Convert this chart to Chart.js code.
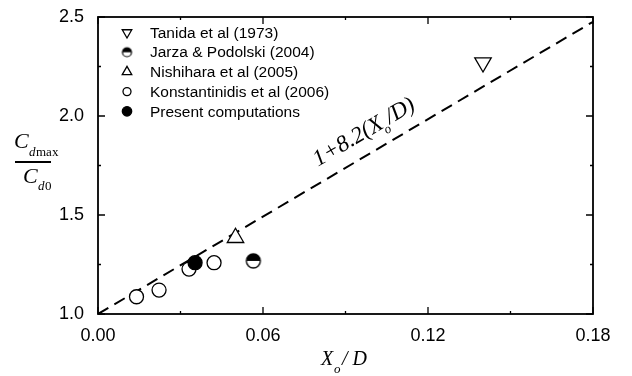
<!DOCTYPE html>
<html>
<head>
<meta charset="utf-8">
<script src="https://cdn.jsdelivr.net/npm/chart.js@4.4.0/dist/chart.umd.min.js"></script>
<style>
  html, body { margin: 0; padding: 0; background: #fff; }
  #wrap { width: 632px; height: 376px; position: relative; }
</style>
</head>
<body>
<div id="wrap"><canvas id="chart"></canvas></div>
<script>
// values
const tanidaX = [0.140];
const tanidaY = [2.27];
const jarzaX = [0.0565];
const jarzaY = [1.268];
const nishiharaX = [0.050];
const nishiharaY = [1.385];
const konstX = [0.014, 0.0222, 0.0331, 0.0422];
const konstY = [1.087, 1.121, 1.227, 1.259];
const presentX = [0.0353];
const presentY = [1.259];
const fitX = [0.0, 0.18];
const fitY = [1.0, 2.476];

const xTicks = [0.00, 0.06, 0.12, 0.18];
const xMinor = [0.03, 0.09, 0.15];
const yTicks = [1.0, 1.5, 2.0, 2.5];
const yMinor = [1.25, 1.75, 2.25];

const pts = (xs, ys) => xs.map((x, i) => ({ x: x, y: ys[i] }));

// half filled circle (top half black)
function halfCircle(r, lw) {
    const size = Math.ceil(2 * r + lw + 2);
    const c = document.createElement('canvas');
    c.width = size;
    c.height = size;
    const g = c.getContext('2d');
    const m = size / 2;
    g.beginPath(); g.arc(m, m, r, 0, Math.PI * 2); g.fillStyle = '#fff'; g.fill();
    g.beginPath(); g.arc(m, m, r, Math.PI, 0); g.closePath(); g.fillStyle = '#000'; g.fill();
    g.beginPath(); g.arc(m, m, r, 0, Math.PI * 2); g.lineWidth = lw; g.strokeStyle = '#000'; g.stroke();
    return c;
}

const serif = '"Liberation Serif", "Times New Roman", serif';
const sans = '"Liberation Sans", Arial, sans-serif';

// frame with inward ticks on all four sides
const frameTicks = {
    id: 'frameTicks',
    afterDatasetsDraw(chart) {
        const { ctx, chartArea: a, scales: { x, y } } = chart;
        ctx.save();
        ctx.strokeStyle = '#000';
        ctx.lineWidth = 1.3;
        ctx.beginPath();
        const xt = (v, len) => {
            const px = x.getPixelForValue(v);
            ctx.moveTo(px, a.bottom); ctx.lineTo(px, a.bottom - len);
            ctx.moveTo(px, a.top); ctx.lineTo(px, a.top + len);
        };
        const yt = (v, len) => {
            const py = y.getPixelForValue(v);
            ctx.moveTo(a.left, py); ctx.lineTo(a.left + len, py);
            ctx.moveTo(a.right, py); ctx.lineTo(a.right - len, py);
        };
        xTicks.forEach(v => xt(v, 7));
        xMinor.forEach(v => xt(v, 3));
        yTicks.forEach(v => yt(v, 7));
        yMinor.forEach(v => yt(v, 3));
        ctx.stroke();
        ctx.lineWidth = 1.8;
        ctx.strokeRect(a.left, a.top, a.right - a.left, a.bottom - a.top);
        ctx.restore();
    }
};

// axis titles with subscripts, and the label on the fit line
const titles = {
    id: 'titles',
    afterDraw(chart) {
        const { ctx, scales: { x, y } } = chart;
        ctx.save();
        ctx.fillStyle = '#000';
        ctx.textBaseline = 'alphabetic';

        // y title: C_dmax / C_d0
        ctx.font = 'italic 22px ' + serif;
        ctx.fillText('C', 14, 148);
        ctx.font = 'italic 13px ' + serif;
        ctx.fillText('d', 29, 156);
        ctx.font = '13px ' + serif;
        ctx.fillText('max', 36, 156);
        ctx.fillRect(15, 161, 36, 2);
        ctx.font = 'italic 22px ' + serif;
        ctx.fillText('C', 23, 183);
        ctx.font = 'italic 13px ' + serif;
        ctx.fillText('d', 38, 190);
        ctx.font = '13px ' + serif;
        ctx.fillText('0', 45, 190);

        // x title: X_o / D
        ctx.font = 'italic 20px ' + serif;
        ctx.fillText('X', 321, 365);
        ctx.font = 'italic 13px ' + serif;
        ctx.fillText('o', 334, 373);
        ctx.font = 'italic 20px ' + serif;
        ctx.fillText('/ D', 342, 365);

        // rotated label along the dashed line
        const p0x = x.getPixelForValue(fitX[0]), p0y = y.getPixelForValue(fitY[0]);
        const p1x = x.getPixelForValue(fitX[1]), p1y = y.getPixelForValue(fitY[1]);
        const ang = Math.atan2(p1y - p0y, p1x - p0x);
        const t = 0.46;
        ctx.translate(p0x + (p1x - p0x) * t, p0y + (p1y - p0y) * t);
        ctx.rotate(ang);
        ctx.translate(0, -15);
        let cx = 0;
        ctx.font = 'italic 23px ' + serif;
        ctx.fillText('1+8.2(X', cx, 0);
        cx += ctx.measureText('1+8.2(X').width;
        ctx.font = 'italic 13px ' + serif;
        ctx.fillText('o', cx - 2, 7);
        cx += 6;
        ctx.font = 'italic 23px ' + serif;
        ctx.fillText('/D)', cx, 0);
        ctx.restore();
    }
};

// legend inside the plot, top left
const insetLegend = {
    id: 'insetLegend',
    afterDraw(chart) {
        const { ctx, chartArea: a } = chart;
        ctx.save();
        ctx.textBaseline = 'middle';
        let row = 0;
        chart.data.datasets.forEach(ds => {
            if (!ds.legendStyle) return;
            const cx = a.left + 29;
            const cy = a.top + 15.5 + row * 19.7;
            ctx.lineWidth = 1.3;
            ctx.strokeStyle = '#000';
            ctx.fillStyle = ds.backgroundColor;
            Chart.helpers.drawPoint(ctx, {
                pointStyle: ds.legendStyle,
                radius: ds.legendRadius,
                rotation: ds.pointRotation || 0,
                borderWidth: 1.3
            }, cx, cy);
            ctx.fillStyle = '#000';
            ctx.font = '15.5px ' + sans;
            ctx.fillText(ds.label, a.left + 52, cy + 1);
            row++;
        });
        ctx.restore();
    }
};

const ctx = document.getElementById('chart').getContext('2d');
new Chart(ctx, {
    type: 'scatter',
    data: {
        datasets: [
            {
                label: 'Tanida et al (1973)',
                data: pts(tanidaX, tanidaY),
                pointStyle: 'triangle',
                pointRotation: 180,
                pointRadius: 9.5,
                backgroundColor: '#fff',
                borderColor: '#000',
                borderWidth: 1.3,
                legendStyle: 'triangle',
                legendRadius: 5.5,
                order: 1
            },
            {
                label: 'Jarza & Podolski (2004)',
                data: pts(jarzaX, jarzaY),
                pointStyle: halfCircle(7, 1.3),
                backgroundColor: '#fff',
                borderColor: '#000',
                legendStyle: halfCircle(4.5, 1.2),
                legendRadius: 4.5,
                order: 1
            },
            {
                label: 'Nishihara et al (2005)',
                data: pts(nishiharaX, nishiharaY),
                pointStyle: 'triangle',
                pointRadius: 9.5,
                backgroundColor: '#fff',
                borderColor: '#000',
                borderWidth: 1.3,
                legendStyle: 'triangle',
                legendRadius: 5.5,
                order: 1
            },
            {
                label: 'Konstantinidis et al (2006)',
                data: pts(konstX, konstY),
                pointStyle: 'circle',
                pointRadius: 7,
                backgroundColor: '#fff',
                borderColor: '#000',
                borderWidth: 1.3,
                legendStyle: 'circle',
                legendRadius: 4,
                order: 3
            },
            {
                label: 'Present computations',
                data: pts(presentX, presentY),
                pointStyle: 'circle',
                pointRadius: 7,
                backgroundColor: '#000',
                borderColor: '#000',
                borderWidth: 1.3,
                legendStyle: 'circle',
                legendRadius: 4.7,
                order: 0
            },
            {
                label: 'fit',
                data: pts(fitX, fitY),
                showLine: true,
                pointRadius: 0,
                borderColor: '#000',
                borderWidth: 2,
                borderDash: [12, 7],
                fill: false,
                order: 10
            }
        ]
    },
    options: {
        responsive: true,
        maintainAspectRatio: false,
        animation: false,
        events: [],
        layout: { padding: { left: 0, top: 17, right: 39, bottom: 0 } },
        plugins: {
            legend: { display: false },
            tooltip: { enabled: false }
        },
        scales: {
            x: {
                type: 'linear',
                min: 0,
                max: 0.18,
                afterBuildTicks: s => { s.ticks = xTicks.map(v => ({ value: v })); },
                afterFit: s => { s.height = 62; },
                grid: { display: false },
                border: { display: false },
                ticks: {
                    color: '#000',
                    font: { family: sans, size: 18 },
                    padding: 3,
                    maxRotation: 0,
                    callback: v => Number(v).toFixed(2)
                }
            },
            y: {
                type: 'linear',
                min: 1.0,
                max: 2.5,
                afterBuildTicks: s => { s.ticks = yTicks.map(v => ({ value: v })); },
                afterFit: s => { s.width = 98; },
                grid: { display: false },
                border: { display: false },
                ticks: {
                    color: '#000',
                    font: { family: sans, size: 18 },
                    padding: 6,
                    callback: v => Number(v).toFixed(1)
                }
            }
        }
    },
    plugins: [frameTicks, titles, insetLegend]
});
</script>
</body>
</html>
